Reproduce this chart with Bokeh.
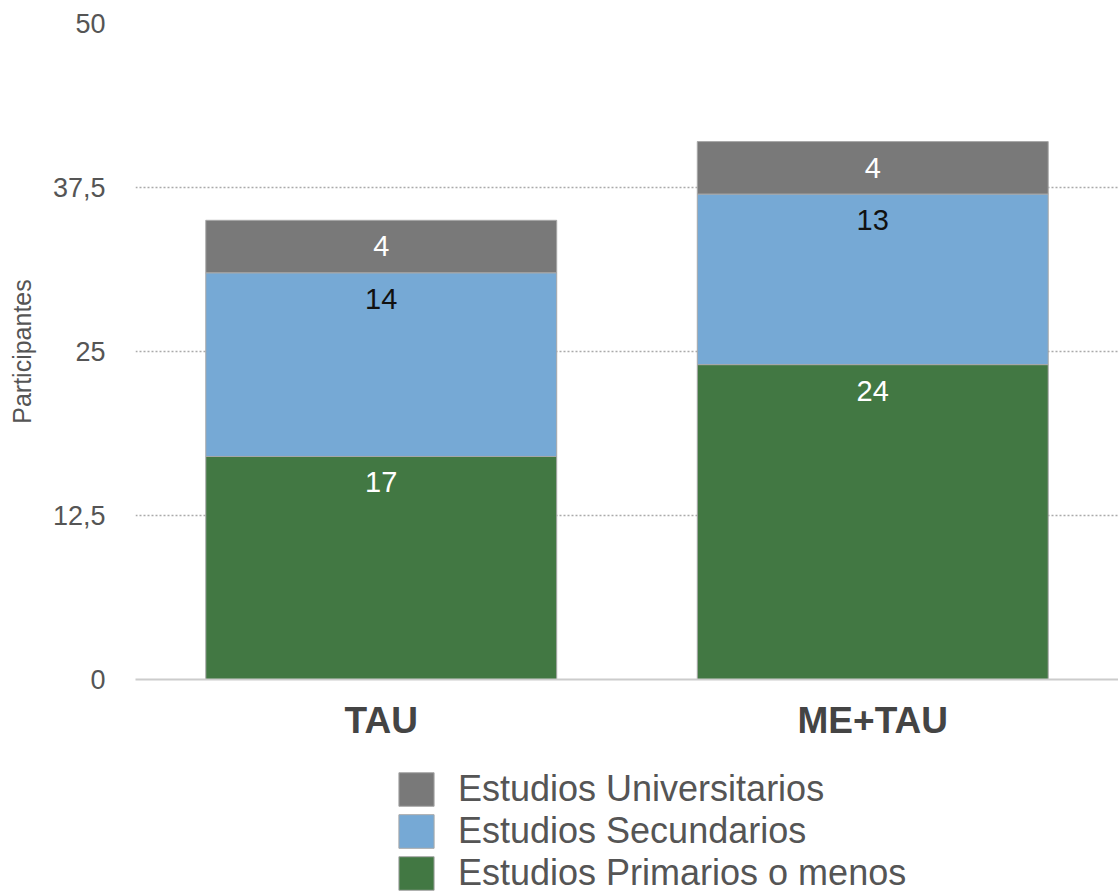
from bokeh.plotting import figure
from bokeh.layouts import column
from bokeh.models import (ColumnDataSource, FixedTicker, CustomJSTickFormatter,
                          Legend, LegendItem, Range1d)
from bokeh.core.properties import value
from bokeh.embed import file_html
from bokeh.resources import INLINE

groups = ["TAU", "ME+TAU"]
primarios = [17, 24]
secundarios = [14, 13]
universitarios = [4, 4]
series_names = ["Estudios Primarios o menos", "Estudios Secundarios", "Estudios Universitarios"]
series_keys = ["primarios", "secundarios", "universitarios"]
colors = ["#427843", "#76a9d5", "#797979"]
label_colors = ["#ffffff", "#111111", "#ffffff"]
y_ticks = [0, 12.5, 25, 37.5, 50]

FONT = "Liberation Sans"

src = ColumnDataSource(dict(groups=groups, primarios=primarios,
                            secundarios=secundarios, universitarios=universitarios))

p = figure(x_range=groups, y_range=Range1d(0, 50), width=1118, height=768,
           output_backend="svg", toolbar_location=None,
           min_border_left=135, min_border_right=0, min_border_top=23,
           min_border_bottom=89)
p.outline_line_color = None
p.background_fill_color = "white"
p.border_fill_color = "white"

renderers = p.vbar_stack(series_keys, x="groups", width=0.714, source=src,
                         color=colors, line_color="#a8a8a8", line_width=1)

# value labels
cum = [0, 0]
for key, vals, tc in zip(series_keys, [primarios, secundarios, universitarios], label_colors):
    tops = [c + v for c, v in zip(cum, vals)]
    lsrc = ColumnDataSource(dict(x=groups, y=tops, t=[str(v) for v in vals]))
    p.text(x="x", y="y", text="t", source=lsrc, text_align="center",
           text_baseline="middle", y_offset=26, text_color=tc,
           text_font=value(FONT), text_font_size="29px")
    cum = tops

# axes
p.yaxis.ticker = FixedTicker(ticks=y_ticks)
p.yaxis.formatter = CustomJSTickFormatter(code="return String(tick).replace('.', ',');")
p.yaxis.axis_line_color = None
p.yaxis.major_tick_line_color = None
p.yaxis.major_tick_out = 0
p.yaxis.minor_tick_line_color = None
p.yaxis.minor_tick_out = 0
p.yaxis.major_label_standoff = 30
p.yaxis.major_label_text_font = FONT
p.yaxis.major_label_text_font_size = "27px"
p.yaxis.major_label_text_color = "#555555"
p.yaxis.axis_label = "Participantes"
p.yaxis.axis_label_text_font = FONT
p.yaxis.axis_label_text_font_size = "25px"
p.yaxis.axis_label_text_font_style = "normal"
p.yaxis.axis_label_text_color = "#555555"
p.yaxis.axis_label_standoff = 14

p.xaxis.axis_line_color = "#cccccc"
p.xaxis.axis_line_width = 2
p.xaxis.major_tick_line_color = None
p.xaxis.major_tick_out = 0
p.xaxis.minor_tick_line_color = None
p.xaxis.minor_tick_out = 0
p.xaxis.major_label_standoff = 20
p.xaxis.major_label_text_font = FONT
p.xaxis.major_label_text_font_size = "37px"
p.xaxis.major_label_text_font_style = "bold"
p.xaxis.major_label_text_color = "#444444"

p.xgrid.grid_line_color = None
p.ygrid.grid_line_color = "#aaaaaa"
p.ygrid.grid_line_dash = "2 2"
p.ygrid.grid_line_width = 1.5

# legend in a separate strip below the chart (its frame aligns with the chart's frame)
lg = figure(width=1118, height=126, x_range=Range1d(0, 1), y_range=Range1d(0, 1),
            output_backend="svg", toolbar_location=None,
            x_axis_location=None, y_axis_location=None,
            min_border_left=0, min_border_right=0, min_border_top=0, min_border_bottom=0)
lg.outline_line_color = None
lg.xgrid.visible = False
lg.ygrid.visible = False
lg.background_fill_color = "white"
lg.border_fill_color = "white"

legend_renderers = []
for c in colors:
    dummy = ColumnDataSource(dict(x=[0.5], top=[0.5]))
    legend_renderers.append(lg.vbar(x="x", top="top", width=0.1, source=dummy,
                                    fill_color=c, line_color="#a8a8a8", line_width=1,
                                    visible=False))

items = [LegendItem(label=series_names[i], renderers=[legend_renderers[i]]) for i in (2, 1, 0)]
legend = Legend(items=items, location=(259, 0), orientation="vertical",
                glyph_width=44, glyph_height=42, label_height=35, spacing=0,
                padding=0, margin=0, label_standoff=20,
                border_line_color=None, background_fill_alpha=0,
                inactive_fill_alpha=0,
                label_text_font=FONT, label_text_font_size="36px",
                label_text_color="#555555")
lg.add_layout(legend, "center")

layout = column(p, lg, spacing=0)
open("out.html", "w").write(file_html(layout, INLINE))
